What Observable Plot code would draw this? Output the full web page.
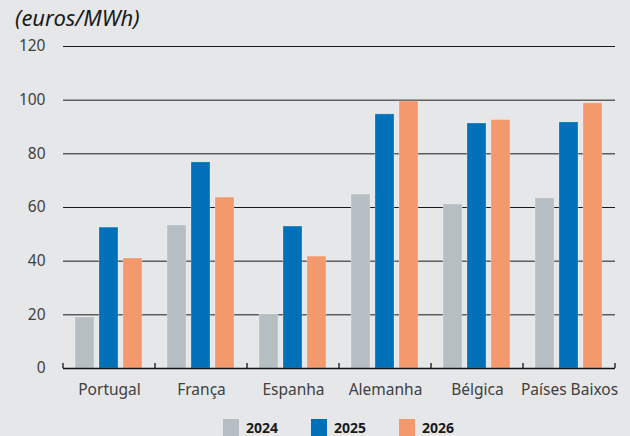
<!DOCTYPE html>
<html>
<head>
<meta charset="utf-8">
<script src="https://cdn.jsdelivr.net/npm/d3@7"></script>
<script src="https://cdn.jsdelivr.net/npm/@observablehq/plot@0.6"></script>
<style>
  html, body { margin: 0; padding: 0; background: #e6e7e9; }
  body { width: 630px; height: 436px; position: relative; overflow: hidden; font-family: "Noto Sans", sans-serif; }
  #title { position: absolute; left: 15px; top: 2px; font-size: 22px; font-style: italic; color: #1a1a1a; }
  #chart { position: absolute; left: 0; top: 34px; }
  #legend { position: absolute; left: 223px; top: 418px; display: flex; align-items: center; font-size: 14px; font-weight: bold; color: #1a1a1a; }
  .item { display: flex; align-items: center; margin-right: 33px; }
  .sw { width: 16px; height: 17px; margin-right: 7px; }
</style>
</head>
<body>
<div id="title">(euros/MWh)</div>
<div id="chart"></div>
<div id="legend"></div>
<script>
const countries = ["Portugal", "França", "Espanha", "Alemanha", "Bélgica", "Países Baixos"];
const years = ["2024", "2025", "2026"];
const values2024 = [19.0, 53.3, 20.1, 64.8, 61.1, 63.4];
const values2025 = [52.5, 76.8, 52.9, 94.7, 91.3, 91.7];
const values2026 = [41.0, 63.7, 41.7, 99.5, 92.6, 98.8];
const yTicks = [0, 20, 40, 60, 80, 100, 120];
const colors = ["#b4bec3", "#0070b8", "#f4996b"];

const series = [values2024, values2025, values2026];
const data = [];
countries.forEach((c, i) => years.forEach((y, j) => data.push({country: c, year: y, value: series[j][i]})));

const plot = Plot.plot({
  width: 630,
  height: 372,
  marginLeft: 61,
  marginRight: 14,
  marginTop: 12,
  marginBottom: 38,
  style: {background: "transparent", fontFamily: "Noto Sans, sans-serif", fontSize: "15.5px", color: "#404040", overflow: "visible"},
  fx: {domain: countries, padding: 0, label: null},
  x: {domain: years, paddingInner: 0.2, paddingOuter: 0.45, axis: null},
  y: {domain: [0, 120], label: null},
  color: {domain: years, range: colors},
  marks: [
    Plot.axisY({ticks: yTicks, tickSize: 0, tickPadding: 18, fontSize: 15.5, fill: "#404040", label: null}),
    Plot.axisFx({anchor: "bottom", tickSize: 0, tickPadding: 15, fontSize: 15.5, fill: "#404040", label: null}),
    Plot.ruleY(yTicks.filter(d => d > 0), {stroke: "#1a1a1a", strokeWidth: 1}),
    Plot.barY(data, {fx: "country", x: "year", y: "value", fill: "year", stroke: "white", strokeOpacity: 0.25, strokeWidth: 1}),
    Plot.ruleY([0], {stroke: "#111", strokeWidth: 1.3})
  ]
});

// boundary ticks on the baseline, from the fx scale
const fx = plot.scale("fx");
const ys = plot.scale("y");
const y0 = ys.apply(0);
const bounds = countries.map(c => fx.apply(c));
bounds.push(fx.apply(countries[countries.length - 1]) + fx.bandwidth);
d3.select(plot).append("g")
  .selectAll("line").data(bounds).join("line")
  .attr("x1", d => d).attr("x2", d => d)
  .attr("y1", y0).attr("y2", y0 - 5)
  .attr("stroke", "#111").attr("stroke-width", 1.3);

document.getElementById("chart").appendChild(plot);

const legend = document.getElementById("legend");
years.forEach((y, i) => {
  const it = document.createElement("div");
  it.className = "item";
  it.innerHTML = `<div class="sw" style="background:${colors[i]}"></div><span>${y}</span>`;
  legend.appendChild(it);
});
</script>
</body>
</html>
